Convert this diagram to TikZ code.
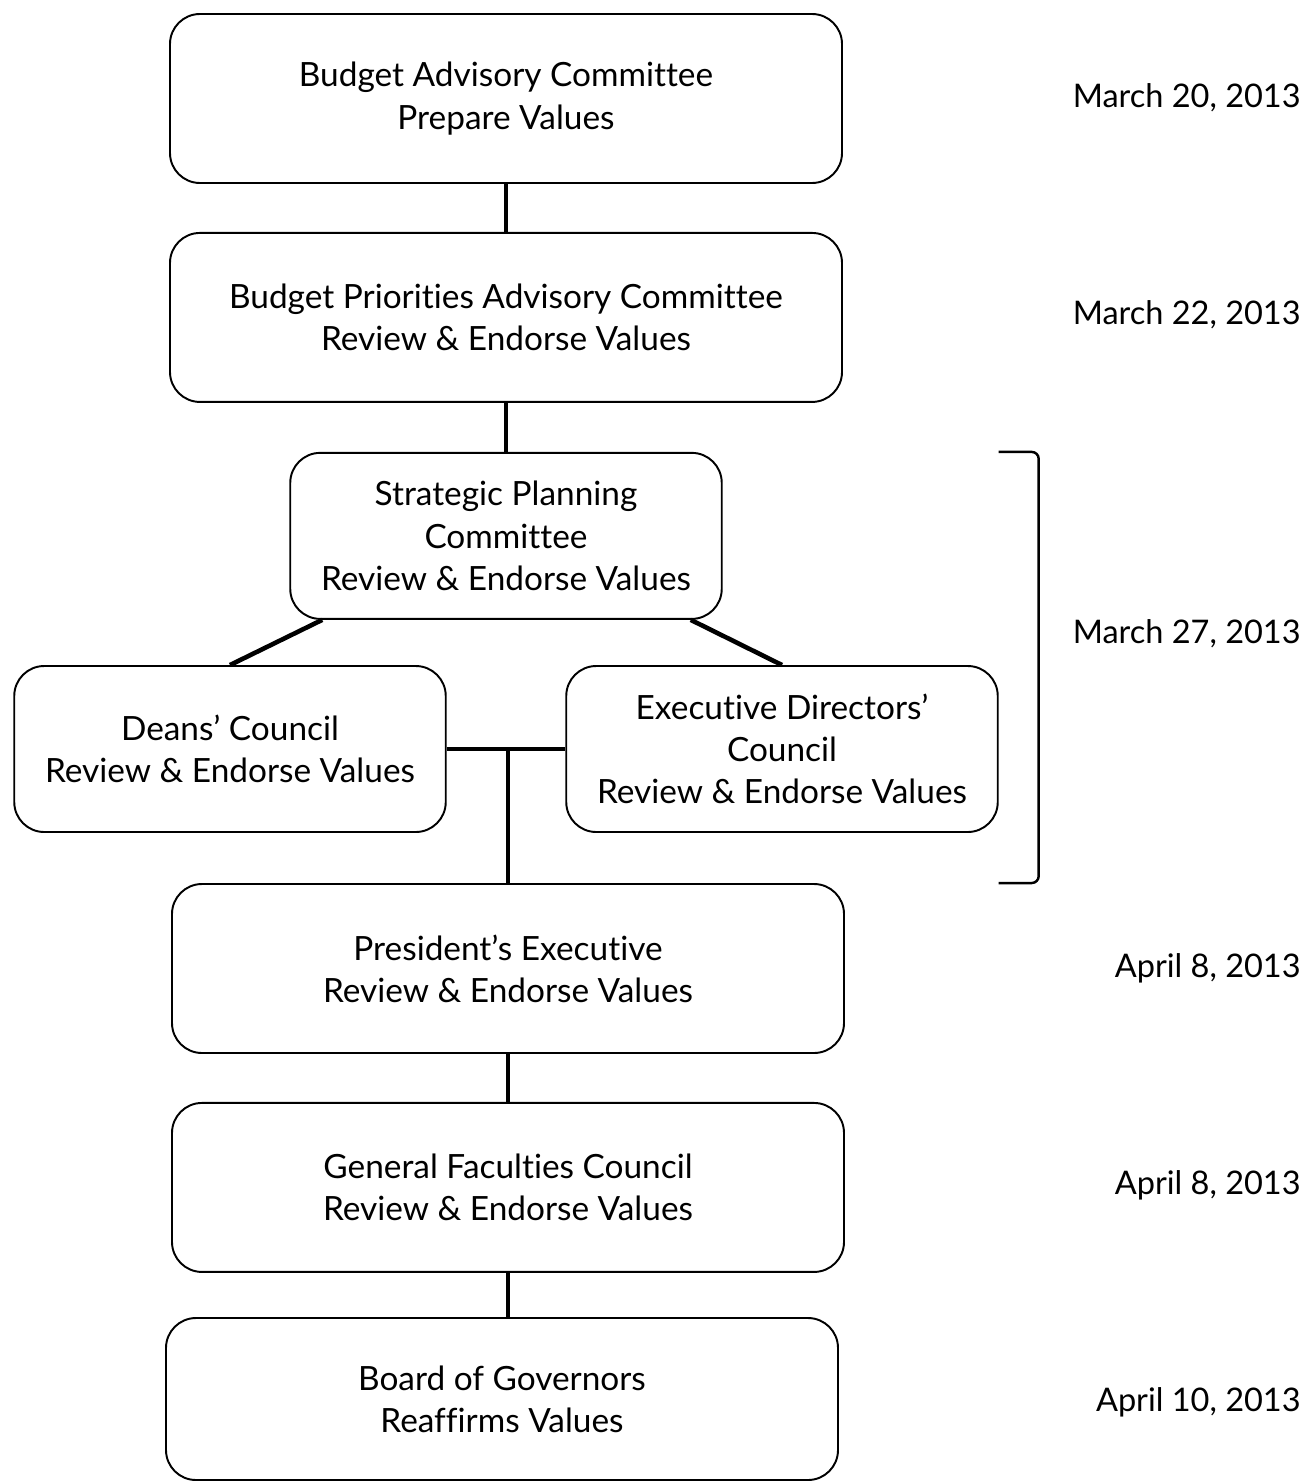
\documentclass[tikz,border=0pt]{standalone}
\usepackage{fontspec}
\setmainfont{Lato}[Ligatures={NoCommon}]
\usetikzlibrary{positioning}

\begin{document}
\begin{tikzpicture}
[box/.style={draw,line width=1.1pt,rounded corners=0.6cm,align=center,
    minimum width=13.44cm,minimum height=3.38cm,font=\fontsize{19}{24}\selectfont},
 smallbox/.style={box,minimum width=8.63cm,minimum height=3.32cm},
 link/.style={line width=2.6pt},
 datelabel/.style={anchor=east,inner sep=0pt,font=\fontsize{18.5}{24}\selectfont}]
\useasboundingbox (0,0) rectangle (26.12,-29.64);
% steps of the review
\node[box](bac) at (10.12,-1.97){Budget Advisory Committee\\Prepare Values};
\node[box,below=0.96cm of bac](bpac){Budget Priorities Advisory Committee\\Review \& Endorse Values};
\node[smallbox,below=0.98cm of bpac](spc){Strategic Planning\\Committee\\Review \& Endorse Values};
\node[smallbox](deans) at (4.6,-14.98){Deans' Council\\Review \& Endorse Values};
\node[smallbox](exec) at (15.64,-14.98){Executive Directors'\\Council\\Review \& Endorse Values};
\node[box](pres) at (10.16,-19.37){President's Executive\\Review \& Endorse Values};
\node[box,below=0.96cm of pres](gfc){General Faculties Council\\Review \& Endorse Values};
\node[box,minimum height=3.24cm](bog) at (10.04,-27.98){Board of Governors\\Reaffirms Values};
% connectors
\draw[link] (bac) -- (bpac);
\draw[link] (bpac) -- (spc);
\draw[link] ([xshift=0.66cm]spc.south west) -- (deans.north);
\draw[link] ([xshift=-0.64cm]spc.south east) -- (exec.north);
\draw[link] (deans.east) -- (exec.west);
\draw[link] (deans.east -| pres.north) -- (pres.north);
\draw[link] (pres) -- (gfc);
\draw[link] (gfc.south) -- (gfc.south |- bog.north);
% bracket for the council meetings
\draw[line width=1.4pt,rounded corners=4pt] (exec.east |- spc.north) -- ([xshift=0.8cm]exec.east |- spc.north)
  -- ([xshift=0.8cm]exec.east |- pres.north) -- (exec.east |- pres.north);
% dates
\node[datelabel](d1) at (26.02,-1.96){March 20, 2013};
\node[datelabel](d2) at (26.02,-6.3){March 22, 2013};
\node[datelabel](d3) at (26.02,-12.68){March 27, 2013};
\node[datelabel](d4) at (26.02,-19.36){April 8, 2013};
\node[datelabel](d5) at (26.02,-23.7){April 8, 2013};
\node[datelabel](d6) at (26.02,-28.04){April 10, 2013};
\end{tikzpicture}
\end{document}
